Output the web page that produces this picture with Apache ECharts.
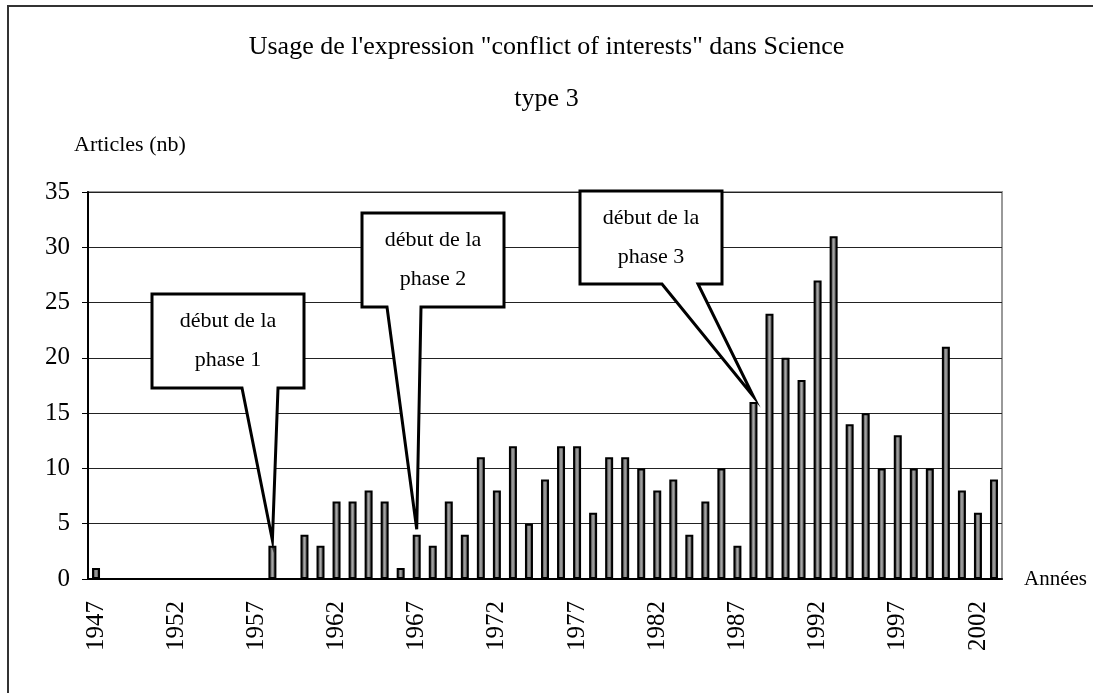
<!DOCTYPE html>
<html>
<head>
<meta charset="utf-8">
<script src="https://cdn.jsdelivr.net/npm/echarts@6/dist/echarts.min.js"></script>
<style>
  html, body { margin: 0; padding: 0; background: #fff; }
  #main { width: 1093px; height: 693px; }
</style>
</head>
<body>
<div id="main"></div>
<script>
  // années (axe des x)
  var years = ['1947', '1948', '1949', '1950', '1951', '1952', '1953', '1954', '1955', '1956',
    '1957', '1958', '1959', '1960', '1961', '1962', '1963', '1964', '1965', '1966',
    '1967', '1968', '1969', '1970', '1971', '1972', '1973', '1974', '1975', '1976',
    '1977', '1978', '1979', '1980', '1981', '1982', '1983', '1984', '1985', '1986',
    '1987', '1988', '1989', '1990', '1991', '1992', '1993', '1994', '1995', '1996',
    '1997', '1998', '1999', '2000', '2001', '2002', '2003'];
  // nombre d'articles par année
  var articles = [1, 0, 0, 0, 0, 0, 0, 0, 0, 0,
    0, 3, 0, 4, 3, 7, 7, 8, 7, 1,
    4, 3, 7, 4, 11, 8, 12, 5, 9, 12,
    12, 6, 11, 11, 10, 8, 9, 4, 7, 10,
    3, 16, 24, 20, 18, 27, 31, 14, 15, 10,
    13, 10, 10, 21, 8, 6, 9];
  // bulles : année visée + texte
  var phaseYears = ['1958', '1967', '1988'];
  var phaseTexts = ['début de la\nphase 1', 'début de la\nphase 2', 'début de la\nphase 3'];

  var font = '"Liberation Serif", "Times New Roman", serif';

  var chart = echarts.init(document.getElementById('main'));
  chart.setOption({
    animation: false,
    backgroundColor: '#fff',
    title: [{
      text: 'Usage de l\'expression "conflict of interests" dans Science',
      left: 'center',
      top: 29,
      textStyle: { fontFamily: font, fontSize: 26, fontWeight: 'normal', color: '#000' }
    }, {
      text: 'type 3',
      left: 'center',
      top: 81,
      textStyle: { fontFamily: font, fontSize: 26, fontWeight: 'normal', color: '#000' }
    }],
    grid: {
      left: 88,
      right: 91,
      top: 192,
      bottom: 114,
      show: true,
      borderColor: '#999',
      borderWidth: 2
    },
    xAxis: {
      type: 'category',
      data: years,
      name: 'Années',
      nameLocation: 'end',
      nameGap: 22,
      nameTextStyle: { fontFamily: font, fontSize: 21, color: '#000', padding: [0, 0, 28, 0] },
      axisLine: { lineStyle: { color: '#000', width: 2 } },
      axisTick: { interval: 0, length: 8, lineStyle: { color: '#000' } },
      axisLabel: {
        interval: 4,
        rotate: 90,
        margin: 22,
        fontFamily: font,
        fontSize: 25,
        color: '#000'
      }
    },
    yAxis: {
      type: 'value',
      min: 0,
      max: 35,
      interval: 5,
      name: 'Articles (nb)',
      nameLocation: 'end',
      nameGap: 36,
      nameTextStyle: { fontFamily: font, fontSize: 22, color: '#000', align: 'left', padding: [0, 0, 0, -14] },
      axisLine: { show: true, lineStyle: { color: '#000', width: 2 } },
      axisTick: { show: true, length: 6, lineStyle: { color: '#000' } },
      axisLabel: { fontFamily: font, fontSize: 25, color: '#000', margin: 18 },
      splitLine: { lineStyle: { color: '#222', width: 1 } }
    },
    series: [{
      type: 'bar',
      data: articles,
      barWidth: 8,
      itemStyle: {
        borderColor: '#000',
        borderWidth: 2,
        color: new echarts.graphic.LinearGradient(0, 0, 1, 0, [
          { offset: 0, color: '#141414' },
          { offset: 0.5, color: '#a8a8a8' },
          { offset: 1, color: '#141414' }
        ])
      }
    }]
  });

  // boîtes des bulles (x, y, largeur, hauteur, base gauche/droite de la pointe)
  var boxes = [
    [152, 294, 152, 94, 242, 278],
    [362, 213, 142, 94, 387, 421],
    [580, 191, 142, 93, 662, 698]
  ];
  var graphics = [{
    type: 'rect',
    shape: { x: 8, y: 6, width: 1120, height: 720 },
    style: { fill: null, stroke: '#333', lineWidth: 2 },
    silent: true,
    z: 0
  }];
  phaseYears.forEach(function (y, i) {
    var idx = years.indexOf(y);
    var tip = chart.convertToPixel({ xAxisIndex: 0, yAxisIndex: 0 }, [idx, articles[idx] + 0.5]);
    var b = boxes[i];
    var x0 = b[0], y0 = b[1], x1 = b[0] + b[2], y1 = b[1] + b[3];
    graphics.push({
      type: 'polygon',
      shape: { points: [[x0, y0], [x1, y0], [x1, y1], [b[5], y1], [tip[0], tip[1]], [b[4], y1], [x0, y1]] },
      style: { fill: '#fff', stroke: '#000', lineWidth: 3, lineJoin: 'miter' },
      z: 100
    });
    graphics.push({
      type: 'text',
      x: (x0 + x1) / 2,
      y: (y0 + y1) / 2,
      style: {
        text: phaseTexts[i],
        fontFamily: font,
        fontSize: 22,
        lineHeight: 39,
        fill: '#000',
        align: 'center',
        verticalAlign: 'middle'
      },
      z: 101
    });
  });
  chart.setOption({ graphic: graphics });
</script>
</body>
</html>
